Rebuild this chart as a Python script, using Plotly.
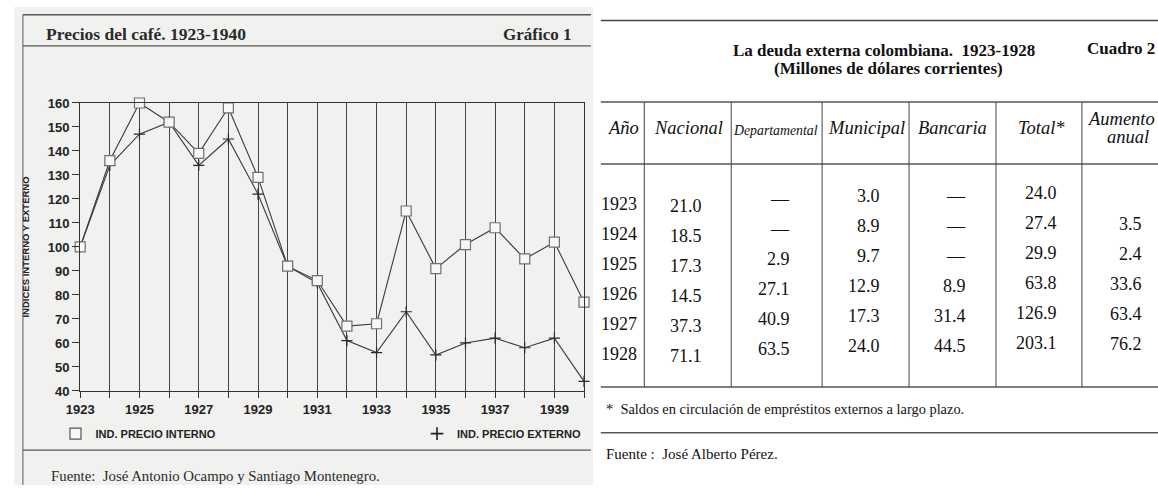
import plotly.graph_objects as go

# ---------------- DATA ----------------
anios = list(range(1923, 1941))
precio_interno = [100, 136, 160, 152, 139, 158, 129, 92, 86, 67, 68, 115, 91, 101, 108, 95, 102, 77]
precio_externo = [100, 134, 147, 152, 134, 145, 122, 92, 85, 61, 56, 73, 55, 60, 62, 58, 62, 44]
ticks_anios = [1923, 1925, 1927, 1929, 1931, 1933, 1935, 1937, 1939]
ticks_indice = list(range(40, 161, 10))

tabla_anios = [1923, 1924, 1925, 1926, 1927, 1928]
nacional = [21.0, 18.5, 17.3, 14.5, 37.3, 71.1]
departamental = [None, None, 2.9, 27.1, 40.9, 63.5]
municipal = [3.0, 8.9, 9.7, 12.9, 17.3, 24.0]
bancaria = [None, None, None, 8.9, 31.4, 44.5]
total = [24.0, 27.4, 29.9, 63.8, 126.9, 203.1]
aumento_anual = [None, 3.5, 2.4, 33.6, 63.4, 76.2]

# ---------------- LAYOUT HELPERS ----------------
W, H = 1158, 493
def px(x):
    return x / W
def py(y):
    return 1 - y / H

SERIF = "Liberation Serif, Times New Roman, serif"
SANS = "Liberation Sans, Arial, sans-serif"
INK = "#2a2a2a"

fig = go.Figure()

# chart lines
fig.add_trace(go.Scatter(
    x=anios, y=precio_externo, mode="lines+markers", name="IND. PRECIO EXTERNO",
    line=dict(color="#3a3a3a", width=1.1),
    marker=dict(symbol="cross-thin", size=8, line=dict(width=1.2, color="#2a2a2a")),
    showlegend=False, cliponaxis=False))
fig.add_trace(go.Scatter(
    x=anios, y=precio_interno, mode="lines+markers", name="IND. PRECIO INTERNO",
    line=dict(color="#3a3a3a", width=1.1),
    marker=dict(symbol="square", size=10, color="#f7f7f5", line=dict(width=1.2, color="#707070")),
    showlegend=False, cliponaxis=False))

# legend-only entries (symbols only, as in the original)
fig.add_trace(go.Scatter(
    x=[None], y=[None], mode="markers", name="IND. PRECIO INTERNO", legend="legend",
    marker=dict(symbol="square", size=11, color="#f7f7f5", line=dict(width=1.2, color="#555"))))
fig.add_trace(go.Scatter(
    x=[None], y=[None], mode="markers", name="IND. PRECIO EXTERNO", legend="legend2",
    marker=dict(symbol="cross-thin", size=9, line=dict(width=1.6, color="#222"))))

# invisible trace to anchor the table axes
fig.add_trace(go.Scatter(x=[None], y=[None], xaxis="x2", yaxis="y2", showlegend=False,
                         hoverinfo="skip"))

# ---------------- TABLE (annotations on table axes) ----------------
col_right = [633, 698, 788, 879, 966, 1058, 1144]   # right edge of text in each column (px)
col_shift = [0, -2, 5, 8, 8, 11, 10]                # scanned rows are not level
col_dash = [False, False, True, False, True, False, False]
columns = [tabla_anios, nacional, departamental, municipal, bancaria, total, aumento_anual]

annotations = []
for ci, col in enumerate(columns):
    for yr, v in zip(tabla_anios, col):
        if v is None:
            if not col_dash[ci]:
                continue
            txt = "—"
        elif ci == 0:
            txt = str(v)
        else:
            txt = f"{v:.1f}"
        annotations.append(dict(
            x=px(col_right[ci]), xref="paper", xanchor="right",
            y=yr, yref="y2", yanchor="middle", yshift=col_shift[ci],
            text=txt, showarrow=False,
            font=dict(family=SERIF, size=18, color="#111")))

headers = [
    ("<i>Año</i>", 616, 125, 18.5, "center"),
    ("<i>Nacional</i>", 683, 125, 18.5, "center"),
    ("<i>Departamental</i>", 771, 127, 13.8, "center"),
    ("<i>Municipal</i>", 863, 125, 18.5, "center"),
    ("<i>Bancaria</i>", 950, 125, 18.5, "center"),
    ("<i>Total*</i>", 1040, 125, 18.5, "center"),
    ("<i>Aumento</i>", 1157, 115, 18.5, "right"),
    ("<i>anual</i>", 1128, 134, 18.5, "center"),
]
for t, x, y, s, anc in headers:
    annotations.append(dict(x=px(x), y=py(y), xref="paper", yref="paper",
                            xanchor=anc, yanchor="middle", text=t, showarrow=False,
                            font=dict(family=SERIF, size=s, color="#111")))

texts = [
    ("<b>La deuda externa colombiana.  1923-1928</b>", 881, 45, "center", 17, SERIF),
    ("<b>(Millones de dólares corrientes)</b>", 885, 63, "center", 17, SERIF),
    ("<b>Cuadro 2</b>", 1157, 43, "right", 17, SERIF),
    ("*  Saldos en circulación de empréstitos externos a largo plazo.", 597, 415, "left", 14.4, SERIF),
    ("Fuente :  José Alberto Pérez.", 597, 461, "left", 15, SERIF),
    ("<b>Precios del café. 1923-1940</b>", 30, 28, "left", 17.5, SERIF),
    ("<b>Gráfico 1</b>", 566, 28, "right", 17, SERIF),
    ("Fuente:  José Antonio Ocampo y Santiago Montenegro.", 35, 484, "left", 14.8, SERIF),
]
for t, x, y, anc, s, fam in texts:
    annotations.append(dict(x=px(x), y=py(y), xref="paper", yref="paper",
                            xanchor=anc, yanchor="middle", text=t, showarrow=False,
                            font=dict(family=fam, size=s, color="#111" if x > 590 else INK)))

# ---------------- SHAPES ----------------
shapes = []
# scanned panel background
shapes.append(dict(type="rect", xref="paper", yref="paper", x0=0, x1=px(586), y0=0, y1=1,
                   fillcolor="#f1f1ef", line=dict(width=0), layer="below"))
def hline(y, x0, x1, w=1.4, c="#3a3a3a"):
    shapes.append(dict(type="line", xref="paper", yref="paper", x0=px(x0), x1=px(x1),
                       y0=py(y), y1=py(y), line=dict(color=c, width=w)))
def vline(x, y0, y1, w=1.0, c="#3a3a3a"):
    shapes.append(dict(type="line", xref="paper", yref="paper", x0=px(x), x1=px(x),
                       y0=py(y0), y1=py(y1), line=dict(color=c, width=w)))
# left panel frame
hline(8, 9, 584, 1.5, "#555")
vline(9, 8, 493, 1.2, "#777")
hline(40, 9, 584, 1.3, "#555")
hline(457, 9, 584, 1.3, "#555")
# table rules
hline(14, 594, 1158, 1.5, "#444")
hline(98, 594, 1158, 1.5, "#555")
hline(162, 594, 1158, 1.5, "#555")
hline(392, 594, 1158, 1.5, "#555")
hline(439, 594, 1158, 1.5, "#555")
for x in [638, 726, 818, 906, 994, 1081]:
    vline(x, 98, 392, 1.0, "#444")

tick_font = dict(family=SANS, size=13, color="#222", weight="bold")

fig.update_layout(
    width=W, height=H,
    margin=dict(l=0, r=0, t=0, b=0),
    paper_bgcolor="white", plot_bgcolor="rgba(0,0,0,0)",
    showlegend=True,
    xaxis=dict(domain=[px(67), px(577)], range=[1923, 1940],
               tickmode="array", tickvals=ticks_anios, ticks="outside", ticklen=6,
               tickcolor="#333", tickwidth=1,
               showgrid=True, gridcolor="#444", gridwidth=1,
               minor=dict(dtick=1, tick0=1923, ticks="outside", ticklen=6, tickcolor="#333",
                          showgrid=True, gridcolor="#444", gridwidth=1),
               showline=True, linecolor="#333", linewidth=1.2, mirror=True,
               tickfont=tick_font, zeroline=False),
    yaxis=dict(domain=[py(396), py(99)], range=[40, 160],
               tickmode="array", tickvals=ticks_indice, ticks="outside", ticklen=7,
               tickcolor="#333", showgrid=False,
               showline=True, linecolor="#333", linewidth=1.2, mirror=True,
               tickfont=tick_font, zeroline=False,
               title=dict(text="INDICES INTERNO Y EXTERNO", standoff=16,
                          font=dict(family=SANS, size=9.5, color="#222", weight="bold"))),
    xaxis2=dict(domain=[px(594), 1], range=[0, 1], visible=False, anchor="y2"),
    yaxis2=dict(domain=[py(392), py(162)], range=[1929.10, 1921.68], visible=False, anchor="x2"),
    legend=dict(x=px(42), y=py(440), xanchor="left", yanchor="middle", orientation="h",
                bgcolor="rgba(0,0,0,0)", itemwidth=30,
                font=dict(family=SANS, size=11, color="#222", weight="bold")),
    legend2=dict(x=px(579), y=py(440), xanchor="right", yanchor="middle", orientation="h",
                 bgcolor="rgba(0,0,0,0)", itemwidth=30,
                 font=dict(family=SANS, size=11, color="#222", weight="bold")),
    annotations=annotations,
    shapes=shapes,
)

fig.write_html(
    "out.html",
    config={"displayModeBar": False},
    post_script="document.documentElement.style.margin='0';document.body.style.margin='0';"
                "document.body.style.overflow='hidden';document.documentElement.style.overflow='hidden';",
)
